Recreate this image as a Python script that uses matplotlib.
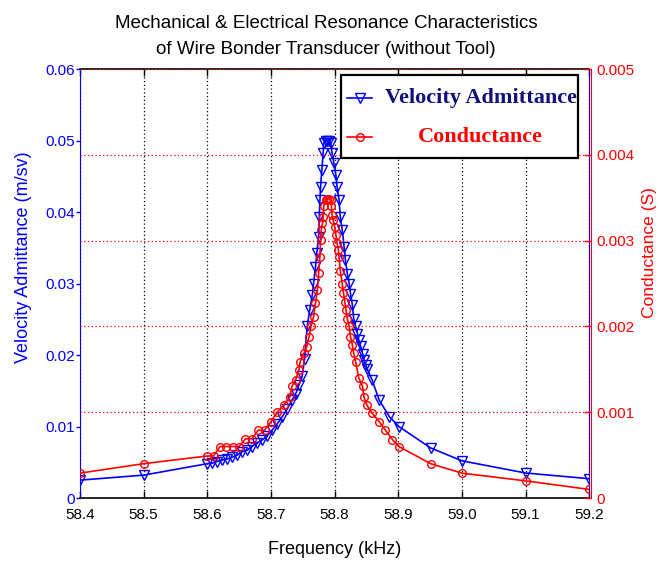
import matplotlib
matplotlib.use('Agg')
import matplotlib.pyplot as plt
from matplotlib.patches import Rectangle
from matplotlib.lines import Line2D
from matplotlib.ticker import FuncFormatter

plt.rcParams['font.family'] = ['Liberation Sans', 'DejaVu Sans']

# velocity admittance (m/sv), left axis
va_freq = [58.400, 58.500, 58.600, 58.607, 58.615, 58.623, 58.631, 58.639,
           58.647, 58.655, 58.663, 58.670, 58.678, 58.686, 58.694, 58.702,
           58.710, 58.718, 58.726, 58.733, 58.739, 58.744, 58.749, 58.753,
           58.757, 58.761, 58.765, 58.767, 58.770, 58.772, 58.775, 58.776,
           58.777, 58.778, 58.780, 58.782, 58.783, 58.786, 58.788, 58.791,
           58.794, 58.796, 58.799, 58.802, 58.804, 58.807, 58.809, 58.812,
           58.815, 58.817, 58.820, 58.823, 58.825, 58.828, 58.830, 58.833,
           58.836, 58.838, 58.841, 58.844, 58.846, 58.849, 58.851, 58.859,
           58.870, 58.886, 58.901, 58.951, 59.000, 59.100, 59.200]
va_vals = [0.0025, 0.0032, 0.0048, 0.00485, 0.0051, 0.0053, 0.00545, 0.0057,
           0.0060, 0.0065, 0.0067, 0.0072, 0.0077, 0.0081, 0.0087, 0.0095,
           0.0104, 0.0114, 0.0125, 0.0137, 0.0146, 0.0158, 0.0170, 0.0195,
           0.0240, 0.0263, 0.0284, 0.0300, 0.0323, 0.0342, 0.0365, 0.0393,
           0.0417, 0.0435, 0.0459, 0.0482, 0.0496, 0.0500, 0.0500, 0.0499,
           0.0496, 0.0482, 0.0468, 0.0452, 0.0435, 0.0417, 0.0393, 0.0375,
           0.0351, 0.0333, 0.0314, 0.0300, 0.0286, 0.0270, 0.0251, 0.0240,
           0.0230, 0.0221, 0.0212, 0.0202, 0.0193, 0.0186, 0.0181, 0.0165,
           0.0137, 0.0114, 0.0100, 0.0070, 0.0052, 0.0035, 0.0027]

# conductance (S), right axis
g_freq = [58.400, 58.500, 58.600, 58.610, 58.620, 58.630, 58.640, 58.650,
          58.660, 58.670, 58.680, 58.690, 58.700, 58.710, 58.720, 58.730,
          58.733, 58.739, 58.744, 58.746, 58.752, 58.756, 58.760, 58.763,
          58.767, 58.770, 58.773, 58.775, 58.777, 58.778, 58.779, 58.781,
          58.782, 58.783, 58.786, 58.788, 58.791, 58.794, 58.795, 58.796,
          58.798, 58.800, 58.802, 58.804, 58.806, 58.807, 58.809, 58.812,
          58.814, 58.816, 58.818, 58.820, 58.823, 58.825, 58.828, 58.830,
          58.833, 58.838, 58.844, 58.846, 58.851, 58.859, 58.870, 58.880,
          58.891, 58.901, 58.951, 59.000, 59.100, 59.200]
g_vals = [0.00029, 0.00040, 0.00049, 0.00049, 0.00060, 0.00060, 0.00060, 0.00060,
          0.00069, 0.00069, 0.00079, 0.00079, 0.00089, 0.00100, 0.00108, 0.00118,
          0.00130, 0.00138, 0.00149, 0.00159, 0.00169, 0.00176, 0.00188, 0.00200,
          0.00211, 0.00227, 0.00242, 0.00262, 0.00281, 0.00301, 0.00312, 0.00320,
          0.00328, 0.00340, 0.00347, 0.00349, 0.00349, 0.00347, 0.00340, 0.00330,
          0.00324, 0.00316, 0.00307, 0.00297, 0.00289, 0.00281, 0.00265, 0.00250,
          0.00239, 0.00229, 0.00219, 0.00209, 0.00200, 0.00188, 0.00178, 0.00169,
          0.00159, 0.00140, 0.00130, 0.00118, 0.00108, 0.00099, 0.00089, 0.00079,
          0.00068, 0.00060, 0.00040, 0.00029, 0.00020, 0.00010]

x_ticks = [58.4, 58.5, 58.6, 58.7, 58.8, 58.9, 59.0, 59.1, 59.2]
va_ticks = [0, 0.01, 0.02, 0.03, 0.04, 0.05, 0.06]
g_ticks = [0, 0.001, 0.002, 0.003, 0.004, 0.005]

BLUE = '#0000ff'
RED = '#ff0000'
DOT = (0, (1, 2))

fig = plt.figure(figsize=(6.62, 5.70), dpi=100)
ax = fig.add_axes([0.1208, 0.1263, 0.7692, 0.7526])
ax2 = ax.twinx()

ax.plot(va_freq, va_vals, color=BLUE, lw=1.2, marker='v', ms=6.5,
        mfc='none', mec=BLUE, mew=1.0)
ax2.plot(g_freq, g_vals, color=RED, lw=1.2, marker='o', ms=5.5,
         mfc='none', mec=RED, mew=1.0)

ax.set_xlim(58.4, 59.2)
ax.set_ylim(0, 0.06)
ax2.set_ylim(0, 0.005)
ax.set_xticks(x_ticks)
ax.set_yticks(va_ticks)
ax2.set_yticks(g_ticks)
ax.xaxis.set_major_formatter(FuncFormatter(lambda v, _: f'{v:.1f}'))
fmt = FuncFormatter(lambda v, _: '0' if abs(v) < 1e-12 else f'{v:g}')
ax.yaxis.set_major_formatter(fmt)
ax2.yaxis.set_major_formatter(fmt)

ax.xaxis.grid(True, color='black', ls=DOT, lw=0.9)
ax2.yaxis.grid(True, color=RED, ls=DOT, lw=0.9)

ax.tick_params(axis='x', direction='in', top=True, length=5, width=1,
               labelsize=11, colors='black', pad=7)
ax.tick_params(axis='y', direction='out', length=3, width=1,
               labelsize=11, colors=BLUE, pad=0.5)
ax2.tick_params(axis='y', direction='in', length=5, width=1,
                labelsize=11, colors=RED, pad=4)

for s in ('bottom', 'top'):
    ax.spines[s].set_color('black')
    ax.spines[s].set_linewidth(1.2)
ax.spines['left'].set_color(BLUE)
ax.spines['right'].set_color(BLUE)
ax2.spines['right'].set_color(RED)
ax2.spines['right'].set_position(('outward', 1.5))
for s in ('left', 'top', 'bottom'):
    ax2.spines[s].set_visible(False)

ax.set_ylabel('Velocity Admittance (m/sv)', color=BLUE, fontsize=13)
ax.yaxis.set_label_coords(-0.094, 0.562)
ax2.set_ylabel('Conductance (S)', color=RED, fontsize=12.5)
ax2.yaxis.set_label_coords(1.104, 0.573)
ax.set_xlabel('Frequency (kHz)', fontsize=13, labelpad=14)
fig.text(0.4925, 0.9596, 'Mechanical & Electrical Resonance Characteristics',
         ha='center', va='center', fontsize=13.5)
fig.text(0.4925, 0.9123, 'of Wire Bonder Transducer (without Tool)',
         ha='center', va='center', fontsize=13.5)

# legend box, MATLAB style with centred entries
lx0, lx1, ly0, ly1 = 0.513, 0.978, 0.792, 0.986
ax2.add_patch(Rectangle((lx0, ly0), lx1 - lx0, ly1 - ly0, transform=ax2.transAxes,
                        facecolor='white', edgecolor='black', lw=1.6, zorder=10))
entries = [('Velocity Admittance', BLUE, 'v', 6.5, '#10107a', 0.932),
           ('Conductance', RED, 'o', 5.5, RED, 0.8425)]
for label, col, mk, ms, tcol, yy in entries:
    ax2.add_line(Line2D([0.525, 0.574], [yy, yy], transform=ax2.transAxes,
                        color=col, lw=1.2, zorder=11))
    ax2.add_line(Line2D([0.5495], [yy], transform=ax2.transAxes, color=col,
                        marker=mk, ms=ms, mfc='none', mec=col, zorder=11))
    ax2.text(0.787, yy, label, transform=ax2.transAxes, ha='center', va='center',
             fontsize=16, fontweight='bold', color=tcol,
             family=['Liberation Serif', 'DejaVu Serif'], zorder=12)

fig.savefig('out.png', dpi=100)
